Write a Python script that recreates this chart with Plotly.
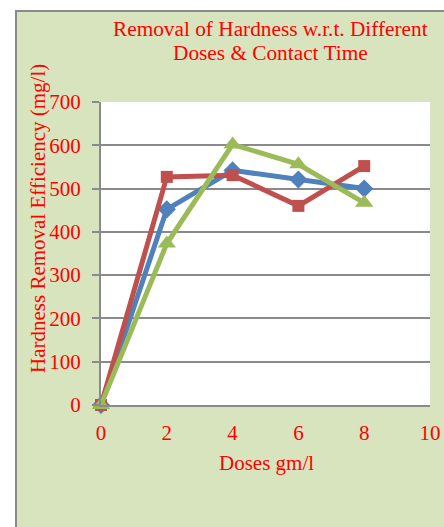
import plotly.graph_objects as go

# Dose levels (gm/l) and hardness removal for each series (mg/l)
doses = [0, 2, 4, 6, 8]
series_blue = [0, 452, 542, 521, 500]
series_red = [0, 527, 531, 460, 552]
series_green = [0, 373, 602, 556, 467]

W, H = 444, 527
L, R, T, B = 101, 14, 102, 122
# screen position of the plot area, used to place paper-referenced items
X0, X1 = L, W - R
Y0, Y1 = T, H - B

def px_x(x):
    return (x - X0) / (X1 - X0)

def px_y(y):
    return (Y1 - y) / (Y1 - Y0)

FONT = "Liberation Serif, Times New Roman, serif"
RED = "#FF0000"
GRAY = "#8A8A8A"

fig = go.Figure()
styles = [
    (series_blue, "#4F81BD", "diamond", 14),
    (series_red, "#C0504D", "square", 12),
    (series_green, "#9BBB59", "triangle-up", 16),
]
for vals, col, sym, sz in styles:
    fig.add_trace(go.Scatter(
        x=doses, y=vals, mode="lines+markers",
        line=dict(color=col, width=5),
        marker=dict(symbol=sym, size=sz, color=col),
        cliponaxis=False, showlegend=False,
    ))

def label(text, x, y, size=21, angle=0):
    return dict(text=text, xref="paper", yref="paper", x=px_x(x), y=px_y(y),
                xanchor="center", yanchor="middle", showarrow=False,
                textangle=angle, font=dict(size=size, color=RED, family=FONT))

fig.update_layout(
    width=W, height=H,
    margin=dict(l=L, r=R, t=T, b=B, autoexpand=False),
    paper_bgcolor="white",
    plot_bgcolor="rgba(0,0,0,0)",
    font=dict(family=FONT, color=RED, size=21),
    shapes=[
        dict(type="rect", xref="paper", yref="paper", layer="below",
             x0=px_x(16), x1=px_x(470), y0=px_y(560), y1=px_y(11),
             fillcolor="#D7E4BD", line=dict(color=GRAY, width=2)),
        dict(type="rect", xref="paper", yref="paper", layer="below",
             x0=0, x1=1, y0=0, y1=1, fillcolor="white", line=dict(width=0)),
    ],
    annotations=[
        label("Removal of Hardness w.r.t. Different", 270, 28.5, size=21.3),
        label("Doses &amp; Contact Time", 270.5, 52.5, size=21.3),
        label("Hardness Removal Efficiency (mg/l)", 38, 219, angle=-90),
        label("Doses gm/l", 266, 463),
    ],
)
fig.update_xaxes(
    range=[0, 10], dtick=2, tick0=0, showgrid=False, zeroline=False,
    showline=True, linecolor=GRAY, linewidth=2, automargin=False,
    ticks="", ticklabelstandoff=8, ticklabeloverflow="allow",
    tickfont=dict(size=21, color=RED, family=FONT),
)
fig.update_yaxes(
    range=[0, 700], dtick=100, tick0=0, showgrid=True, gridcolor=GRAY,
    gridwidth=2, zeroline=False, showline=True, linecolor=GRAY, linewidth=2,
    ticks="outside", ticklen=7, tickcolor=GRAY, tickwidth=2, automargin=False,
    ticklabelstandoff=7,
    tickfont=dict(size=21, color=RED, family=FONT),
)

fig.write_html("out.html")
